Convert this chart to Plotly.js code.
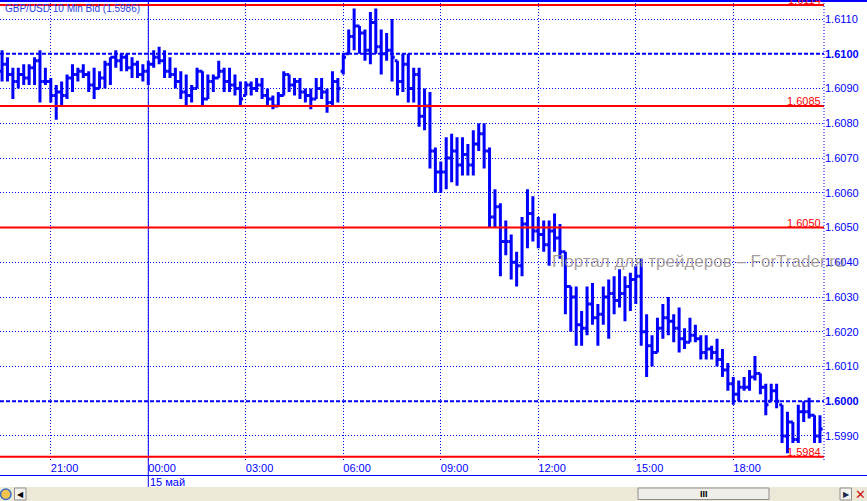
<!DOCTYPE html>
<html>
<head>
<meta charset="utf-8">
<script src="https://cdn.plot.ly/plotly-3.0.1.min.js"></script>
<style>
html,body{margin:0;padding:0;background:#fff;}
#chart{width:867px;height:501px;}
</style>
</head>
<body>
<div id="chart"></div>
<script>
// ---- data: GBP/USD 10 min bars ----
const times = [
'2012-05-14 19:30','2012-05-14 19:40','2012-05-14 19:50',
'2012-05-14 20:00','2012-05-14 20:10','2012-05-14 20:20','2012-05-14 20:30','2012-05-14 20:40','2012-05-14 20:50',
'2012-05-14 21:00','2012-05-14 21:10','2012-05-14 21:20','2012-05-14 21:30','2012-05-14 21:40','2012-05-14 21:50',
'2012-05-14 22:00','2012-05-14 22:10','2012-05-14 22:20','2012-05-14 22:30','2012-05-14 22:40','2012-05-14 22:50',
'2012-05-14 23:00','2012-05-14 23:10','2012-05-14 23:20','2012-05-14 23:30','2012-05-14 23:40','2012-05-14 23:50',
'2012-05-15 00:00','2012-05-15 00:10','2012-05-15 00:20','2012-05-15 00:30','2012-05-15 00:40','2012-05-15 00:50',
'2012-05-15 01:00','2012-05-15 01:10','2012-05-15 01:20','2012-05-15 01:30','2012-05-15 01:40','2012-05-15 01:50',
'2012-05-15 02:00','2012-05-15 02:10','2012-05-15 02:20','2012-05-15 02:30','2012-05-15 02:40','2012-05-15 02:50',
'2012-05-15 03:00','2012-05-15 03:10','2012-05-15 03:20','2012-05-15 03:30','2012-05-15 03:40','2012-05-15 03:50',
'2012-05-15 04:00','2012-05-15 04:10','2012-05-15 04:20','2012-05-15 04:30','2012-05-15 04:40','2012-05-15 04:50',
'2012-05-15 05:00','2012-05-15 05:10','2012-05-15 05:20','2012-05-15 05:30','2012-05-15 05:40','2012-05-15 05:50',
'2012-05-15 06:00','2012-05-15 06:10','2012-05-15 06:20','2012-05-15 06:30','2012-05-15 06:40','2012-05-15 06:50',
'2012-05-15 07:00','2012-05-15 07:10','2012-05-15 07:20','2012-05-15 07:30','2012-05-15 07:40','2012-05-15 07:50',
'2012-05-15 08:00','2012-05-15 08:10','2012-05-15 08:20','2012-05-15 08:30','2012-05-15 08:40','2012-05-15 08:50',
'2012-05-15 09:00','2012-05-15 09:10','2012-05-15 09:20','2012-05-15 09:30','2012-05-15 09:40','2012-05-15 09:50',
'2012-05-15 10:00','2012-05-15 10:10','2012-05-15 10:20','2012-05-15 10:30','2012-05-15 10:40','2012-05-15 10:50',
'2012-05-15 11:00','2012-05-15 11:10','2012-05-15 11:20','2012-05-15 11:30','2012-05-15 11:40','2012-05-15 11:50',
'2012-05-15 12:00','2012-05-15 12:10','2012-05-15 12:20','2012-05-15 12:30','2012-05-15 12:40','2012-05-15 12:50',
'2012-05-15 13:00','2012-05-15 13:10','2012-05-15 13:20','2012-05-15 13:30','2012-05-15 13:40','2012-05-15 13:50',
'2012-05-15 14:00','2012-05-15 14:10','2012-05-15 14:20','2012-05-15 14:30','2012-05-15 14:40','2012-05-15 14:50',
'2012-05-15 15:00','2012-05-15 15:10','2012-05-15 15:20','2012-05-15 15:30','2012-05-15 15:40','2012-05-15 15:50',
'2012-05-15 16:00','2012-05-15 16:10','2012-05-15 16:20','2012-05-15 16:30','2012-05-15 16:40','2012-05-15 16:50',
'2012-05-15 17:00','2012-05-15 17:10','2012-05-15 17:20','2012-05-15 17:30','2012-05-15 17:40','2012-05-15 17:50',
'2012-05-15 18:00','2012-05-15 18:10','2012-05-15 18:20','2012-05-15 18:30','2012-05-15 18:40','2012-05-15 18:50',
'2012-05-15 19:00','2012-05-15 19:10','2012-05-15 19:20','2012-05-15 19:30','2012-05-15 19:40','2012-05-15 19:50',
'2012-05-15 20:00','2012-05-15 20:10','2012-05-15 20:20','2012-05-15 20:30','2012-05-15 20:40'
];

const highs = [
1.6101,1.6099,1.6096,1.6096,1.6097,1.6097,1.6099,1.6101,1.6096,1.6093,
1.6091,1.6092,1.6094,1.6097,1.6096,1.6097,1.6095,1.6096,1.6095,1.6098,
1.6099,1.6101,1.6100,1.6100,1.6099,1.6098,1.6097,1.6098,1.6101,1.6102,
1.6101,1.6099,1.6096,1.6095,1.6094,1.6091,1.6096,1.6095,1.6094,1.6094,
1.6098,1.6096,1.6096,1.6094,1.6092,1.6092,1.6092,1.6093,1.6093,1.6090,
1.6088,1.6089,1.6095,1.6094,1.6093,1.6093,1.6090,1.6090,1.6093,1.6093,
1.6090,1.6095,1.6093,1.6100,1.6107,1.6113,1.6108,1.6107,1.6112,1.6113,
1.6107,1.6106,1.6110,1.6098,1.6100,1.6100,1.6096,1.6096,1.6090,1.6089,
1.6073,1.6069,1.6076,1.6077,1.6076,1.6076,1.6074,1.6078,1.6080,1.6080,
1.6073,1.6061,1.6057,1.6052,1.6048,1.6043,1.6053,1.6061,1.6059,1.6053,
1.6052,1.6052,1.6054,1.6051,1.6043,1.6033,1.6033,1.6026,1.6033,1.6034,
1.6028,1.6033,1.6035,1.6036,1.6038,1.6036,1.6037,1.6039,1.6041,1.6025,
1.6019,1.6024,1.6028,1.6030,1.6025,1.6027,1.6021,1.6024,1.6022,1.6019,
1.6019,1.6016,1.6018,1.6015,1.6011,1.6007,1.6006,1.6007,1.6009,1.6013,
1.6008,1.6005,1.6005,1.6005,1.5999,1.5997,1.5994,1.5999,1.6000,1.6001,
1.5996,1.5996
];

const lows = [
1.6092,1.6092,1.6087,1.6090,1.6091,1.6091,1.6091,1.6086,1.6091,1.6086,
1.6081,1.6085,1.6087,1.6089,1.6092,1.6093,1.6089,1.6087,1.6090,1.6090,
1.6091,1.6096,1.6095,1.6095,1.6093,1.6093,1.6092,1.6091,1.6096,1.6097,
1.6093,1.6093,1.6090,1.6087,1.6085,1.6086,1.6090,1.6085,1.6087,1.6089,
1.6093,1.6089,1.6089,1.6088,1.6085,1.6088,1.6088,1.6089,1.6087,1.6085,
1.6084,1.6085,1.6088,1.6089,1.6088,1.6087,1.6086,1.6084,1.6087,1.6087,
1.6083,1.6085,1.6086,1.6094,1.6100,1.6101,1.6100,1.6098,1.6097,1.6100,
1.6094,1.6098,1.6092,1.6088,1.6089,1.6086,1.6086,1.6079,1.6078,1.6067,
1.6060,1.6060,1.6061,1.6063,1.6062,1.6065,1.6065,1.6065,1.6072,1.6067,
1.6050,1.6050,1.6036,1.6042,1.6035,1.6033,1.6036,1.6044,1.6046,1.6044,
1.6043,1.6039,1.6043,1.6041,1.6025,1.6020,1.6016,1.6016,1.6019,1.6022,
1.6016,1.6022,1.6018,1.6025,1.6027,1.6023,1.6026,1.6028,1.6016,1.6007,
1.6010,1.6014,1.6018,1.6019,1.6017,1.6014,1.6015,1.6017,1.6017,1.6012,
1.6012,1.6012,1.6010,1.6007,1.6003,1.5999,1.6000,1.6003,1.6003,1.6006,
1.6002,1.5996,1.6000,1.5998,1.5988,1.5985,1.5988,1.5988,1.5994,1.5995,
1.5988,1.5988
];

const opens = [
1.6095,1.6097,1.6094,1.6092,1.6094,1.6093,1.6096,1.6098,1.6092,1.6092,
1.6088,1.6089,1.6088,1.6093,1.6094,1.6095,1.6094,1.6091,1.6090,1.6093,
1.6097,1.6099,1.6098,1.6099,1.6096,1.6097,1.6094,1.6095,1.6097,1.6099,
1.6098,1.6095,1.6094,1.6092,1.6089,1.6088,1.6090,1.6095,1.6087,1.6092,
1.6093,1.6095,1.6092,1.6091,1.6090,1.6088,1.6091,1.6090,1.6091,1.6088,
1.6087,1.6085,1.6088,1.6094,1.6091,1.6092,1.6089,1.6088,1.6087,1.6090,
1.6089,1.6086,1.6092,1.6095,1.6100,1.6105,1.6108,1.6106,1.6101,1.6109,
1.6102,1.6100,1.6101,1.6098,1.6092,1.6097,1.6090,1.6094,1.6082,1.6085,
1.6072,1.6066,1.6066,1.6070,1.6072,1.6068,1.6071,1.6068,1.6074,1.6077,
1.6072,1.6053,1.6056,1.6046,1.6046,1.6040,1.6039,1.6051,1.6054,1.6049,
1.6048,1.6045,1.6049,1.6047,1.6043,1.6033,1.6030,1.6022,1.6021,1.6028,
1.6024,1.6025,1.6030,1.6031,1.6029,1.6031,1.6033,1.6035,1.6036,1.6020,
1.6016,1.6014,1.6021,1.6024,1.6023,1.6021,1.6018,1.6017,1.6019,1.6018,
1.6014,1.6015,1.6014,1.6012,1.6009,1.6005,1.6002,1.6004,1.6004,1.6007,
1.6008,1.6004,1.6000,1.6003,1.5999,1.5990,1.5994,1.5989,1.5997,1.5997,
1.5996,1.5990
];

const closes = [
1.6097,1.6094,1.6092,1.6094,1.6093,1.6096,1.6098,1.6092,1.6092,1.6088,
1.6089,1.6088,1.6093,1.6094,1.6095,1.6094,1.6091,1.6090,1.6093,1.6097,
1.6099,1.6098,1.6099,1.6096,1.6097,1.6094,1.6095,1.6097,1.6099,1.6098,
1.6095,1.6094,1.6092,1.6089,1.6088,1.6090,1.6095,1.6087,1.6092,1.6093,
1.6095,1.6092,1.6091,1.6090,1.6087,1.6091,1.6090,1.6091,1.6088,1.6087,
1.6085,1.6088,1.6094,1.6091,1.6092,1.6089,1.6088,1.6087,1.6090,1.6089,
1.6086,1.6092,1.6090,1.6099,1.6105,1.6108,1.6106,1.6101,1.6109,1.6102,
1.6100,1.6101,1.6099,1.6092,1.6097,1.6090,1.6094,1.6082,1.6085,1.6072,
1.6066,1.6066,1.6070,1.6072,1.6068,1.6071,1.6068,1.6074,1.6077,1.6072,
1.6053,1.6056,1.6046,1.6046,1.6040,1.6039,1.6051,1.6054,1.6049,1.6048,
1.6045,1.6049,1.6047,1.6043,1.6033,1.6030,1.6022,1.6021,1.6028,1.6024,
1.6025,1.6030,1.6031,1.6029,1.6031,1.6033,1.6035,1.6036,1.6020,1.6016,
1.6014,1.6021,1.6024,1.6023,1.6021,1.6018,1.6017,1.6019,1.6018,1.6014,
1.6015,1.6014,1.6012,1.6009,1.6005,1.6002,1.6004,1.6004,1.6007,1.6008,
1.6004,1.5999,1.6003,1.6000,1.5990,1.5994,1.5989,1.5997,1.5997,1.5996,
1.5990,1.5992
];

// axis ticks / labels
const xTickVals = ['2012-05-14 21:00','2012-05-15 00:00','2012-05-15 03:00','2012-05-15 06:00',
                   '2012-05-15 09:00','2012-05-15 12:00','2012-05-15 15:00','2012-05-15 18:00'];
const xTickText = ['21:00','00:00','03:00','06:00','09:00','12:00','15:00','18:00'];
const yTickVals = [1.5990,1.6000,1.6010,1.6020,1.6030,1.6040,1.6050,1.6060,1.6070,1.6080,1.6090,1.6100,1.6110];
const yTickText = ['1.5990','<b>1.6000</b>','1.6010','1.6020','1.6030','1.6040','1.6050','1.6060','1.6070','1.6080','1.6090','<b>1.6100</b>','1.6110'];
const majorLevels = [1.6100, 1.6000];
const redLevels = [1.6114, 1.6085, 1.6050, 1.5984];
const redLabels = ['1.6114','1.6085','1.6050','1.5984'];
const daySeparator = '2012-05-15 00:00';
const dayLabel = '15 май';
const chartTitle = 'GBP/USD 10 Min Bid (1.5986)';
const watermark = 'Портал для трейдеров – ForTrader.ru';

// ---- drawing ----
const FONT = 'Liberation Sans, Arial, sans-serif';
const BLUE = '#0000ff';
const RED = '#ff0000';
const PH = 460;            // plot height in px
const PW = 824;            // plot width in px
const py = px => (PH - px) / PH;   // page pixel row -> paper y
const pxx = px => px / PW;         // page pixel col -> paper x

const trace = {
  type: 'ohlc',
  x: times, open: opens, high: highs, low: lows, close: closes,
  increasing: {line: {color: BLUE, width: 3}},
  decreasing: {line: {color: BLUE, width: 3}},
  line: {width: 3},
  tickwidth: 0.5,
  hoverinfo: 'skip',
  showlegend: false
};

const shapes = [];
// dashed major levels
majorLevels.forEach(v => shapes.push({
  type: 'line', xref: 'paper', x0: 0, x1: 1, yref: 'y', y0: v, y1: v,
  line: {color: BLUE, width: 2, dash: '4px,2px'}, layer: 'below'
}));
// red levels
redLevels.forEach(v => shapes.push({
  type: 'line', xref: 'paper', x0: 0, x1: 1, yref: 'y', y0: v, y1: v,
  line: {color: RED, width: 2}, layer: 'above'
}));
// day separator
shapes.push({type: 'line', xref: 'x', x0: daySeparator, x1: daySeparator, yref: 'paper',
  y0: py(487), y1: 1, line: {color: BLUE, width: 1}, layer: 'below'});
// right edge dotted line
shapes.push({type: 'line', xref: 'paper', x0: 1, x1: 1, yref: 'paper', y0: 0, y1: 1,
  line: {color: BLUE, width: 1, dash: '1px,2px'}});
// top border line
shapes.push({type: 'line', xref: 'paper', x0: 0, x1: pxx(867), yref: 'paper', y0: py(1), y1: py(1),
  line: {color: BLUE, width: 2}});
// bottom axis line
shapes.push({type: 'line', xref: 'paper', x0: 0, x1: pxx(867), yref: 'paper', y0: py(475.5), y1: py(475.5),
  line: {color: BLUE, width: 1}});
// scrollbar strip
shapes.push({type: 'rect', xref: 'paper', x0: 0, x1: pxx(867), yref: 'paper', y0: py(487), y1: py(501),
  fillcolor: '#ECE9D8', line: {width: 0}});
shapes.push({type: 'rect', xref: 'paper', x0: pxx(638), x1: pxx(769), yref: 'paper', y0: py(488), y1: py(499.5),
  fillcolor: '#EFEEE8', line: {color: '#8E8E8E', width: 1}});
shapes.push({type: 'rect', xref: 'paper', x0: pxx(14.5), x1: pxx(26), yref: 'paper', y0: py(488), y1: py(500),
  fillcolor: '#F4F3EE', line: {color: '#8E8E8E', width: 1}});
shapes.push({type: 'rect', xref: 'paper', x0: pxx(840), x1: pxx(851.5), yref: 'paper', y0: py(488), y1: py(500),
  fillcolor: '#F4F3EE', line: {color: '#8E8E8E', width: 1}});
shapes.push({type: 'circle', xref: 'paper', x0: pxx(0.5), x1: pxx(11), yref: 'paper', y0: py(489), y1: py(499.5),
  fillcolor: '#F2C14E', line: {color: '#3A6FC0', width: 1.5}});

const annotations = [];
annotations.push({xref: 'paper', yref: 'paper', x: 0, y: 1, xanchor: 'left', yanchor: 'top',
  xshift: 3, yshift: -1, text: chartTitle, showarrow: false,
  font: {family: FONT, size: 10, color: '#1f3fe6'}});
redLevels.forEach((v, i) => annotations.push({xref: 'paper', yref: 'y', x: 1, y: v,
  xanchor: 'right', yanchor: 'bottom', xshift: -1, yshift: -3, text: redLabels[i], showarrow: false,
  font: {family: FONT, size: 11, color: RED}}));
annotations.push({xref: 'x', yref: 'paper', x: daySeparator, y: py(482), xanchor: 'left', yanchor: 'middle',
  xshift: 0, text: dayLabel, showarrow: false, font: {family: FONT, size: 11, color: BLUE}});
annotations.push({xref: 'paper', yref: 'paper', x: pxx(550), y: py(261), xanchor: 'left', yanchor: 'middle',
  text: watermark, showarrow: false, font: {family: FONT, size: 17, color: 'rgba(150,138,138,0.85)'}});
annotations.push({xref: 'paper', yref: 'paper', x: pxx(704), y: py(494), xanchor: 'center', yanchor: 'middle',
  text: '<b>III</b>', showarrow: false, font: {family: FONT, size: 9, color: '#000'}});
annotations.push({xref: 'paper', yref: 'paper', x: pxx(20.5), y: py(494), xanchor: 'center', yanchor: 'middle',
  text: '◀', showarrow: false, font: {family: 'DejaVu Sans', size: 8, color: '#000'}});
annotations.push({xref: 'paper', yref: 'paper', x: pxx(846), y: py(494), xanchor: 'center', yanchor: 'middle',
  text: '▶', showarrow: false, font: {family: 'DejaVu Sans', size: 8, color: '#1a2a4a'}});
annotations.push({xref: 'paper', yref: 'paper', x: pxx(860.5), y: py(494), xanchor: 'center', yanchor: 'middle',
  text: '<b>✕</b>', showarrow: false, font: {family: 'DejaVu Sans', size: 13, color: '#d01010'}});

const layout = {
  width: 867, height: 501,
  margin: {l: 0, r: 43, t: 0, b: 41, pad: 0, autoexpand: false},
  paper_bgcolor: '#ffffff', plot_bgcolor: '#ffffff',
  font: {family: FONT, color: BLUE},
  showlegend: false,
  dragmode: false,
  xaxis: {
    type: 'date',
    range: ['2012-05-14 19:26:13', '2012-05-15 20:47:28'],
    tickvals: xTickVals, ticktext: xTickText,
    ticklabelposition: 'outside right',
    tickfont: {family: FONT, size: 11, color: BLUE},
    ticks: '', showline: false, zeroline: false,
    showgrid: true, gridcolor: BLUE, gridwidth: 1, griddash: '1px,2px',
    rangeslider: {visible: false}, fixedrange: true
  },
  yaxis: {
    side: 'right',
    range: [1.598309, 1.611547],
    tickvals: yTickVals, ticktext: yTickText,
    tickfont: {family: FONT, size: 11, color: BLUE},
    ticks: '', showline: false, zeroline: false,
    showgrid: true, gridcolor: BLUE, gridwidth: 1, griddash: '1px,2px',
    fixedrange: true
  },
  shapes: shapes,
  annotations: annotations
};

Plotly.newPlot('chart', [trace], layout, {displayModeBar: false, staticPlot: true});
</script>
</body>
</html>
